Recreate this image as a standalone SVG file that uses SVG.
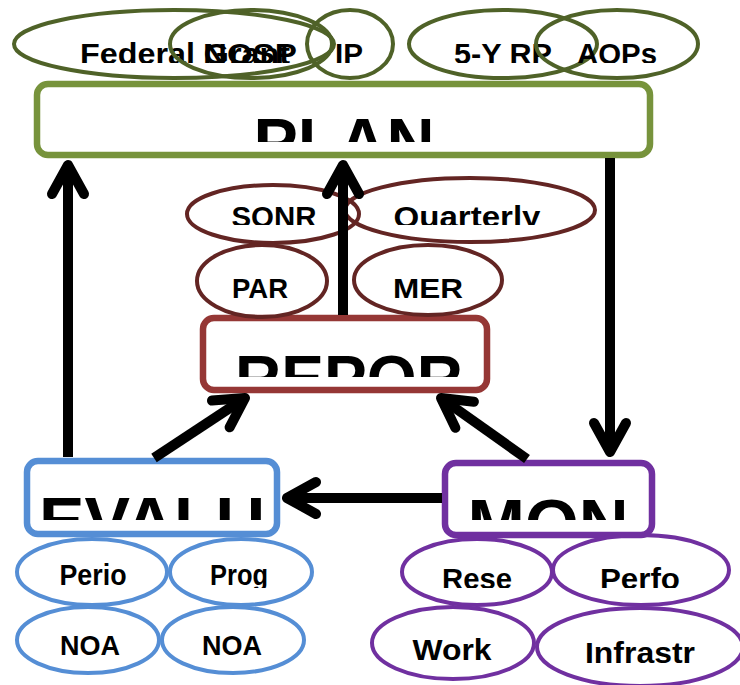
<svg xmlns="http://www.w3.org/2000/svg" width="740" height="685" viewBox="0 0 740 685">
  <style>
    text { font-family: "Liberation Sans", Arial, sans-serif; font-weight: bold; fill: #000; text-anchor: middle; }
    .small { font-size: 29px; }
    .big { font-size: 66px; }
    .box { fill: #fff; stroke-width: 6.5; }
    .oval { fill: none; stroke-width: 4; }
    .plan { stroke: #77933C; }
    .plan-o { stroke: #4F6228; }
    .rep { stroke: #953735; }
    .rep-o { stroke: #632523; }
    .eval { stroke: #558ED5; }
    .mon { stroke: #7030A0; }
    .shaft { fill: none; stroke: #000; stroke-width: 10; stroke-linecap: butt; marker-end: url(#head); }
  </style>
  <defs>
    <marker id="head" markerUnits="userSpaceOnUse" orient="auto" refX="0" refY="0"
            markerWidth="50" markerHeight="50" viewBox="-40 -25 50 50" overflow="visible">
      <path d="M-29,-16 L0,0 L-29,16" fill="none" stroke="#000" stroke-width="10"
            stroke-linecap="round" stroke-linejoin="round"/>
    </marker>
    <clipPath id="c63" clipPathUnits="userSpaceOnUse"><rect x="0" y="0" width="740" height="63"/></clipPath>
    <clipPath id="c142" clipPathUnits="userSpaceOnUse"><rect x="0" y="0" width="740" height="142"/></clipPath>
    <clipPath id="c225" clipPathUnits="userSpaceOnUse"><rect x="0" y="0" width="740" height="225"/></clipPath>
    <clipPath id="c377" clipPathUnits="userSpaceOnUse"><rect x="0" y="0" width="740" height="377"/></clipPath>
    <clipPath id="c520" clipPathUnits="userSpaceOnUse"><rect x="0" y="0" width="740" height="520"/></clipPath>
    <clipPath id="c585" clipPathUnits="userSpaceOnUse"><rect x="0" y="0" width="740" height="585"/></clipPath>
    <clipPath id="c588" clipPathUnits="userSpaceOnUse"><rect x="0" y="0" width="740" height="588"/></clipPath>
  </defs>

  <!-- PLAN stage and its inputs -->
  <g id="plan">
    <rect class="box plan" x="37" y="84" width="613" height="71" rx="11"/>
    <text class="big" x="344" y="165" textLength="181" lengthAdjust="spacingAndGlyphs" clip-path="url(#c142)">PLAN</text>
  </g>
  <g id="federal-grant">
    <ellipse class="oval plan-o" cx="174" cy="44" rx="160" ry="34"/>
    <text class="small" x="185" y="64" textLength="210" lengthAdjust="spacingAndGlyphs" clip-path="url(#c63)">Federal Grant</text>
  </g>
  <g id="nosp">
    <ellipse class="oval plan-o" cx="251" cy="44" rx="81" ry="34"/>
    <text class="small" x="250" y="64" textLength="94" lengthAdjust="spacingAndGlyphs" clip-path="url(#c63)">NOSP</text>
  </g>
  <g id="ip">
    <ellipse class="oval plan-o" cx="350" cy="44" rx="43" ry="34"/>
    <text class="small" x="349" y="64" textLength="28" lengthAdjust="spacingAndGlyphs" clip-path="url(#c63)">IP</text>
  </g>
  <g id="five-year-rp">
    <ellipse class="oval plan-o" cx="503" cy="44" rx="94" ry="34"/>
    <text class="small" x="503" y="64" textLength="98" lengthAdjust="spacingAndGlyphs" clip-path="url(#c63)">5-Y RP</text>
  </g>
  <g id="aops">
    <ellipse class="oval plan-o" cx="617" cy="44" rx="81" ry="34"/>
    <text class="small" x="617" y="64" textLength="80" lengthAdjust="spacingAndGlyphs" clip-path="url(#c63)">AOPs</text>
  </g>

  <!-- REPORT stage and its outputs -->
  <g id="report">
    <rect class="box rep" x="203" y="318" width="284" height="72" rx="11"/>
    <text class="big" x="349" y="401" style="font-size:64px" textLength="228" lengthAdjust="spacingAndGlyphs" clip-path="url(#c377)">REPOR</text>
  </g>
  <g id="sonr">
    <ellipse class="oval rep-o" cx="273" cy="214" rx="86" ry="29"/>
    <text class="small" x="274" y="227" textLength="85" lengthAdjust="spacingAndGlyphs" clip-path="url(#c225)">SONR</text>
  </g>
  <g id="quarterly">
    <ellipse class="oval rep-o" cx="470" cy="210" rx="125" ry="32"/>
    <text class="small" x="467" y="227" textLength="147" lengthAdjust="spacingAndGlyphs" clip-path="url(#c225)">Quarterly</text>
  </g>
  <g id="par">
    <ellipse class="oval rep-o" cx="262" cy="281" rx="65" ry="36"/>
    <text class="small" x="260" y="298" style="font-size:28px" textLength="56" lengthAdjust="spacingAndGlyphs">PAR</text>
  </g>
  <g id="mer">
    <ellipse class="oval rep-o" cx="428" cy="280" rx="74" ry="35"/>
    <text class="small" x="428" y="298" style="font-size:28px" textLength="70" lengthAdjust="spacingAndGlyphs">MER</text>
  </g>

  <!-- EVALUATE stage and its instruments -->
  <g id="evaluate">
    <rect class="box eval" x="27" y="461" width="250" height="73" rx="11"/>
    <text class="big" x="152" y="544" textLength="226" lengthAdjust="spacingAndGlyphs" clip-path="url(#c520)">EVALU</text>
  </g>
  <g id="perio">
    <ellipse class="oval eval" cx="92" cy="572" rx="75" ry="33"/>
    <text class="small" x="93" y="585" textLength="67" lengthAdjust="spacingAndGlyphs" clip-path="url(#c585)">Perio</text>
  </g>
  <g id="prog">
    <ellipse class="oval eval" cx="241" cy="572" rx="71" ry="33"/>
    <text class="small" x="239" y="585" textLength="58" lengthAdjust="spacingAndGlyphs" clip-path="url(#c588)">Prog</text>
  </g>
  <g id="noa-1">
    <ellipse class="oval eval" cx="88" cy="640" rx="71" ry="33"/>
    <text class="small" x="90" y="655" style="font-size:28px" textLength="60" lengthAdjust="spacingAndGlyphs">NOA</text>
  </g>
  <g id="noa-2">
    <ellipse class="oval eval" cx="233" cy="640" rx="71" ry="33"/>
    <text class="small" x="232" y="655" style="font-size:28px" textLength="60" lengthAdjust="spacingAndGlyphs">NOA</text>
  </g>

  <!-- MONITOR stage and its tools -->
  <g id="monitor">
    <rect class="box mon" x="445" y="463" width="207" height="72" rx="11"/>
    <text class="big" x="548" y="547" style="font-size:68px" textLength="161" lengthAdjust="spacingAndGlyphs" clip-path="url(#c520)">MON</text>
  </g>
  <g id="rese">
    <ellipse class="oval mon" cx="477" cy="572" rx="75" ry="33"/>
    <text class="small" x="477" y="589" textLength="70" lengthAdjust="spacingAndGlyphs" clip-path="url(#c588)">Rese</text>
  </g>
  <g id="perfo">
    <ellipse class="oval mon" cx="641" cy="570" rx="88" ry="35"/>
    <text class="small" x="640" y="589" textLength="80" lengthAdjust="spacingAndGlyphs" clip-path="url(#c588)">Perfo</text>
  </g>
  <g id="work">
    <ellipse class="oval mon" cx="453" cy="643" rx="81" ry="36"/>
    <text class="small" x="452" y="660" textLength="79" lengthAdjust="spacingAndGlyphs">Work</text>
  </g>
  <g id="infrastr">
    <ellipse class="oval mon" cx="640" cy="647" rx="103" ry="39"/>
    <text class="small" x="640" y="663" textLength="110" lengthAdjust="spacingAndGlyphs">Infrastr</text>
  </g>

  <!-- cycle connectors -->
  <g id="connectors">
    <line class="shaft" x1="68" y1="457" x2="68" y2="165"/>
    <line class="shaft" x1="343" y1="315" x2="343" y2="165"/>
    <line class="shaft" x1="610" y1="158" x2="610" y2="452"/>
    <line class="shaft" x1="154" y1="458" x2="245" y2="398"/>
    <line class="shaft" x1="527" y1="459" x2="441" y2="398"/>
    <line class="shaft" x1="442" y1="498" x2="287" y2="498"/>
  </g>
</svg>
